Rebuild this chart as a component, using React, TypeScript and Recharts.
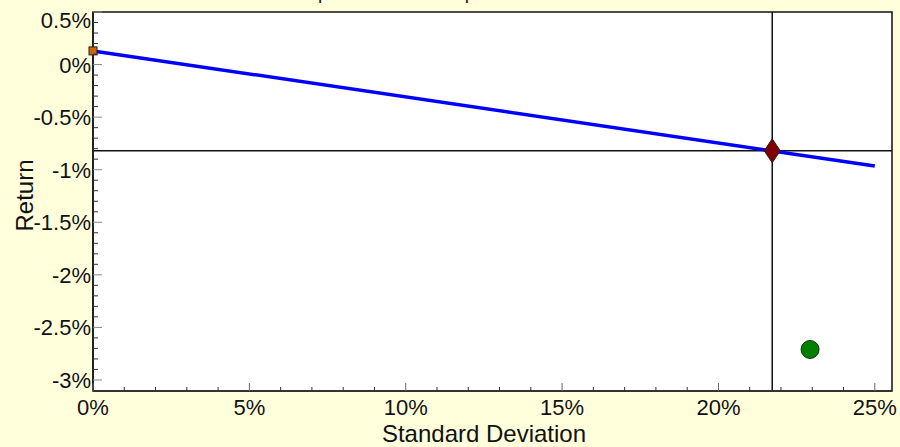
import React from "react";
import {
  ComposedChart,
  Line,
  Scatter,
  XAxis,
  YAxis,
  CartesianGrid,
  ReferenceLine,
  ReferenceArea,
} from "recharts";

// values (percent)
const calLine = [
  { x: 0, y: 0.13 },
  { x: 25, y: -0.965 },
];
const riskFree = [{ x: 0, y: 0.13 }];
const optimal = [{ x: 21.72, y: -0.82 }];
const asset = [{ x: 22.93, y: -2.71 }];

const xMajor = [0, 5, 10, 15, 20, 25];
const yMajor = [0.5, 0, -0.5, -1, -1.5, -2, -2.5, -3];
const xTicks = Array.from({ length: 26 }, (_, i) => i);
const yTicks = Array.from({ length: 36 }, (_, i) => (5 - i) / 10);

const X_DOMAIN: [number, number] = [0, 25.55];
const Y_DOMAIN: [number, number] = [-3.105, 0.5];

const W = 900;
const H = 447;
const PLOT = { left: 93, right: 892, top: 12, bottom: 391 };
const FONT = "'Liberation Sans', Arial, sans-serif";
const BG = "#FFFFDC";

const isMajor = (list: number[], v: number) => list.some((m) => Math.abs(m - v) < 1e-6);

function XTick(props: any) {
  const { x, payload } = props;
  const v = payload.value;
  const major = isMajor(xMajor, v);
  return (
    <g>
      <line x1={x} x2={x} y1={PLOT.bottom} y2={PLOT.bottom - (major ? 8 : 4)} stroke={major ? "#666" : "#333"} strokeWidth={1} />
      {major && (
        <text x={x} y={414.5} textAnchor="middle" fontSize={22} fontFamily={FONT} fill="#111">
          {v}%
        </text>
      )}
    </g>
  );
}

function YTick(props: any) {
  const { y, payload } = props;
  const v = payload.value;
  const major = isMajor(yMajor, v);
  const ly = Math.max(y, 20) + 8;
  return (
    <g>
      <line x1={PLOT.left} x2={PLOT.left + (major ? 9 : 5)} y1={y} y2={y} stroke={major ? "#888" : "#333"} strokeWidth={1} />
      {major && (
        <text x={91} y={ly} textAnchor="end" fontSize={22} fontFamily={FONT} fill="#111">
          {Math.abs(v) < 1e-9 ? "0" : v}%
        </text>
      )}
    </g>
  );
}

const Square = (p: any) => <rect x={p.cx - 4} y={p.cy - 4} width={8} height={8} fill="#CC6600" stroke="#222" strokeWidth={1} />;
const Diamond = (p: any) => (
  <polygon
    points={`${p.cx},${p.cy - 12} ${p.cx + 8},${p.cy} ${p.cx},${p.cy + 12} ${p.cx - 8},${p.cy}`}
    fill="#800000"
    stroke="#222"
    strokeWidth={1}
  />
);
const Dot = (p: any) => <circle cx={p.cx} cy={p.cy} r={9} fill="#008000" stroke="#113311" strokeWidth={1} />;

export default function App() {
  return (
    <div style={{ position: "absolute", left: 0, top: 0, width: W, height: H, background: BG }}>
      <ComposedChart width={W} height={H} margin={{ top: PLOT.top, right: W - PLOT.right, left: 0, bottom: 0 }}>
        <CartesianGrid horizontal={false} vertical={false} fill="#fff" fillOpacity={1} />
        <XAxis
          type="number"
          dataKey="x"
          domain={X_DOMAIN}
          ticks={xTicks}
          interval={0}
          height={H - PLOT.bottom}
          tickLine={false}
          axisLine={{ stroke: "#333", strokeWidth: 2 }}
          tick={<XTick />}
          label={() => (
            <g>
              <text x={484} y={442} textAnchor="middle" fontSize={24} fontFamily={FONT} fill="#111">
                Standard Deviation
              </text>
              <text x={293.7} y={-1} fontSize={19} fontFamily={FONT} fill="#111">
                Capital Allocation: Optimal Portfolio
              </text>
            </g>
          )}
        />
        <YAxis
          type="number"
          dataKey="y"
          domain={Y_DOMAIN}
          ticks={yTicks}
          interval={0}
          width={PLOT.left}
          tickLine={false}
          axisLine={{ stroke: "#222", strokeWidth: 2 }}
          tick={<YTick />}
          label={() => (
            <text
              x={33}
              y={195.5}
              transform="rotate(-90 33 195.5)"
              textAnchor="middle"
              fontSize={24}
              fontFamily={FONT}
              fill="#111"
            >
              Return
            </text>
          )}
        />
        <ReferenceArea x1={X_DOMAIN[0]} x2={X_DOMAIN[1]} y1={Y_DOMAIN[0]} y2={Y_DOMAIN[1]} fill="none" fillOpacity={0} stroke="#111" strokeWidth={1.5} />
        <ReferenceLine x={optimal[0].x} stroke="#111" strokeWidth={1.5} />
        <ReferenceLine y={optimal[0].y} stroke="#111" strokeWidth={1.5} />
        <Line data={calLine} dataKey="y" stroke="#0000FF" strokeWidth={3.5} dot={false} isAnimationActive={false} />
        <Scatter data={riskFree} dataKey="y" shape={Square} isAnimationActive={false} />
        <Scatter data={optimal} dataKey="y" shape={Diamond} isAnimationActive={false} />
        <Scatter data={asset} dataKey="y" shape={Dot} isAnimationActive={false} />
      </ComposedChart>
    </div>
  );
}
